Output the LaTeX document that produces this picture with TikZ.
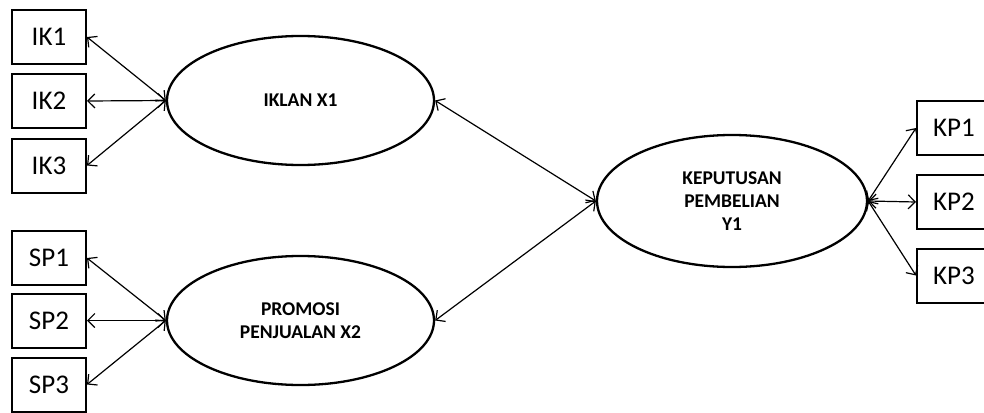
\documentclass[tikz,border=0pt]{standalone}
\usepackage{fontspec}
\setmainfont{Carlito}
\usetikzlibrary{shapes.geometric,arrows.meta}
\begin{document}
\begin{tikzpicture}[x=1pt,y=-1pt,
  ind/.style={draw,line width=2pt,rectangle,minimum width=74pt,minimum height=54pt,inner sep=0pt,font=\fontsize{27}{31}\selectfont},
  lat/.style={draw,line width=2.3pt,ellipse,inner sep=0pt,align=center,font=\fontsize{19.5}{23}\selectfont\bfseries},
  link/.style={line width=1.2pt,{Straight Barb[length=7pt,width=14pt]}-{Straight Barb[length=7pt,width=14pt]}}]
\useasboundingbox (0,0) rectangle (984,412);
\node[ind] (ik1) at (49,37) {IK1};
\node[ind] (ik2) at (49,101) {IK2};
\node[ind] (ik3) at (49,165.5) {IK3};
\node[ind] (sp1) at (49,258) {SP1};
\node[ind] (sp2) at (49,320.5) {SP2};
\node[ind] (sp3) at (49,384.5) {SP3};
\node[ind] (kp1) at (954,128) {KP1};
\node[ind] (kp2) at (954,202) {KP2};
\node[ind] (kp3) at (954,275.5) {KP3};
\node[lat,minimum width=267pt,minimum height=129pt] (x1) at (300.5,100.5) {IKLAN X1};
\node[lat,minimum width=267pt,minimum height=129pt] (x2) at (300.5,320.5) {PROMOSI\\PENJUALAN X2};
\node[lat,minimum width=270pt,minimum height=132pt] (y1) at (732,201) {KEPUTUSAN\\PEMBELIAN\\Y1};
\draw[link] (ik1.east) -- (x1.west);
\draw[link] (ik2.east) -- (x1.west);
\draw[link] (ik3.east) -- (x1.west);
\draw[link] (sp1.east) -- (x2.west);
\draw[link] (sp2.east) -- (x2.west);
\draw[link] (sp3.east) -- (x2.west);
\draw[link] (x1.east) -- (y1.west);
\draw[link] (x2.east) -- (y1.west);
\draw[link] (y1.east) -- (kp1.west);
\draw[link] (y1.east) -- (kp2.west);
\draw[link] (y1.east) -- (kp3.west);
\end{tikzpicture}
\end{document}
